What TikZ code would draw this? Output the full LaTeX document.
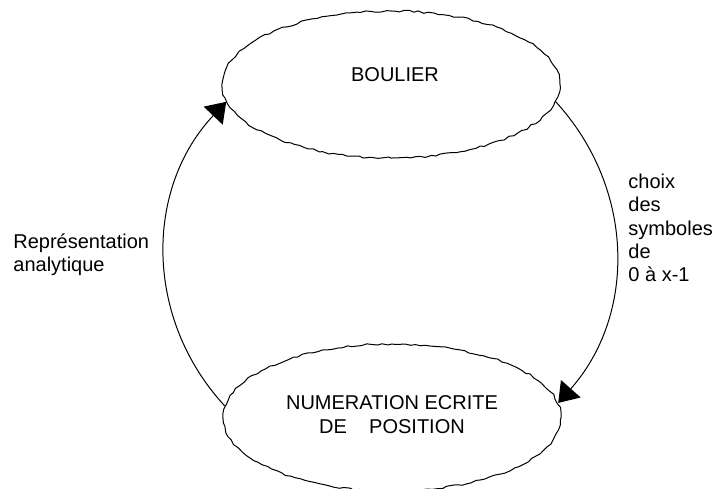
\documentclass[tikz,border=0pt]{standalone}
\usepackage{fontspec}
\setmainfont{Liberation Sans}
\usetikzlibrary{arrows.meta,shapes.geometric,decorations.pathmorphing}
\tikzset{
    bulle/.style={draw, ellipse, line width=0.5pt, minimum width=169pt, minimum height=73.5pt, inner sep=0pt,
        decorate, decoration={random steps, segment length=2.5pt, amplitude=0.5pt}},
    legende/.style={align=left, inner sep=0pt, font=\fontsize{10}{11.7}\selectfont},
    fleche/.style={->, line width=0.5pt}
}
\pgfmathsetseed{7}

\begin{document}
\begin{tikzpicture}[x=0.5pt, y=-0.5pt, >={Triangle[length=9.5pt,width=13pt]}]
\useasboundingbox (0,0) rectangle (716,488);
\node[bulle, label={[legende, align=center, xshift=2pt, yshift=5pt]center:BOULIER}] (boulier) at (391,84.5) {};
\node[bulle, label={[legende, align=center, yshift=1.5pt]center:NUMERATION ECRITE\\DE\ \ \ \ POSITION}] (numeration) at (392,417.5) {};
\draw[fleche] (numeration.176) to[bend left=43] (boulier.186);
\draw[fleche] (boulier.-6.5) to[bend left=42] (numeration.5);
\node[legende, anchor=west] (analytique) at (13,255) {Représentation\\analytique};
\node[legende, anchor=west] (symboles) at (628,228) {choix\\des\\symboles\\de\\0 à x-1};
\end{tikzpicture}
\end{document}
